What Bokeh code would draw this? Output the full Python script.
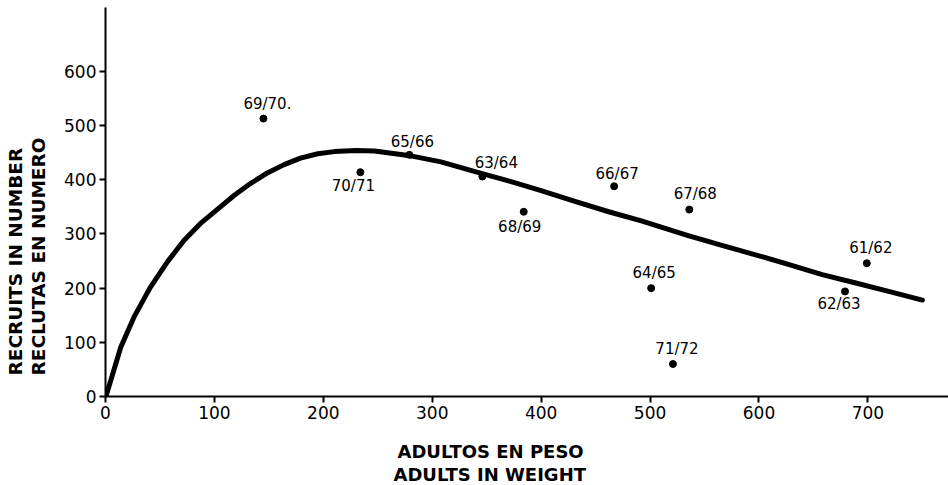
from bokeh.plotting import figure
from bokeh.models import Range1d, FixedTicker, ColumnDataSource, Title
from bokeh.core.properties import value
from bokeh.embed import file_html
from bokeh.resources import INLINE

# Observed seasons: adults (weight) vs recruits (number)
seasons = ["69/70.", "70/71", "65/66", "63/64", "68/69", "66/67", "67/68",
           "64/65", "71/72", "62/63", "61/62"]
adults = [145, 234, 279, 346, 384, 467, 536, 501, 521, 679, 699]
recruits = [513, 414, 446, 406, 341, 388, 345, 200, 60, 194, 246]

# label placement offsets (screen px)
label_dx = [4, -7, 3, 14, -4, 3, 6, 3, 4, -6, 4]
label_dy = [-15, 14, -13, -14, 15, -12, -16, -15, -15, 13, -15]

# Stock-recruitment curve
curve_adults = [1, 14, 26, 41, 57, 72, 87, 103, 118, 133, 149, 164, 179, 195,
                210, 230, 247, 278, 308, 345, 370, 400, 431, 462, 492,
                535, 566, 596, 627, 658, 688, 719, 750]
curve_recruits = [4, 91, 146, 201, 249, 288, 319, 346, 371, 393, 413, 428,
                  440, 448, 452, 454, 453, 445, 433, 412, 398, 380, 360, 341,
                  324, 297, 279, 262, 244, 225, 210, 194, 178]

x_ticks = [0, 100, 200, 300, 400, 500, 600, 700]
y_ticks = [0, 100, 200, 300, 400, 500, 600]

x_title = ["ADULTOS EN PESO", "ADULTS IN WEIGHT"]
y_title = ["RECRUITS IN NUMBER", "RECLUTAS EN NUMERO"]

W, H = 948, 485
p = figure(width=W, height=H, output_backend="svg", toolbar_location=None,
           x_range=Range1d(0, 774), y_range=Range1d(0, 718),
           min_border_left=105, min_border_right=0, min_border_top=7,
           min_border_bottom=89)
p.outline_line_color = None
p.xgrid.visible = False
p.ygrid.visible = False
p.background_fill_color = "white"
p.border_fill_color = "white"

for ax in (p.xaxis[0], p.yaxis[0]):
    ax.axis_line_width = 2
    ax.axis_line_color = "black"
    ax.major_tick_line_width = 2
    ax.major_tick_line_color = "black"
    ax.major_tick_in = 0
    ax.major_tick_out = 6
    ax.minor_tick_line_color = None
    ax.major_label_text_font = "DejaVu Sans"
    ax.major_label_text_font_size = "17px"
    ax.major_label_text_color = "black"
    # blank spacer label to set room before the titles
    ax.axis_label = " "
    ax.axis_label_text_font_size = "10px"
    ax.axis_label_standoff = 0

p.xaxis[0].ticker = FixedTicker(ticks=x_ticks)
p.yaxis[0].ticker = FixedTicker(ticks=y_ticks)
p.xaxis[0].major_label_standoff = 3
p.yaxis[0].major_label_standoff = 3
p.xaxis[0].axis_label_standoff = 4
p.yaxis[0].axis_label_text_font_size = "8px"

p.line(curve_adults, curve_recruits, line_width=5, line_color="black",
       line_cap="round", line_join="round")

src = ColumnDataSource(dict(x=adults, y=recruits, t=seasons,
                            dx=label_dx, dy=label_dy))
p.scatter("x", "y", source=src, size=7, color="black")
p.text("x", "y", text="t", source=src, x_offset="dx", y_offset="dy",
       text_font=value("DejaVu Sans"), text_font_size="15px",
       text_align="center", text_baseline="middle", text_color="black")

# Axis titles as layout panels
tf = "DejaVu Sans"
p.add_layout(Title(text=x_title[0], align="left", offset=292, standoff=0,
                   text_font=tf, text_font_size="18px", text_color="black",
                   text_font_style="bold", vertical_align="middle"), "below")
p.add_layout(Title(text=x_title[1], align="left", offset=288, standoff=0,
                   text_font=tf, text_font_size="18px", text_color="black",
                   text_font_style="bold", vertical_align="middle"), "below")
p.add_layout(Title(text=y_title[1], align="left", offset=21, standoff=0,
                   text_font=tf, text_font_size="18.5px", text_color="black",
                   text_font_style="bold", vertical_align="middle"), "left")
p.add_layout(Title(text=y_title[0], align="left", offset=21, standoff=0,
                   text_font=tf, text_font_size="18.5px", text_color="black",
                   text_font_style="bold", vertical_align="middle"), "left")

open("out.html", "w").write(file_html(p, INLINE))
